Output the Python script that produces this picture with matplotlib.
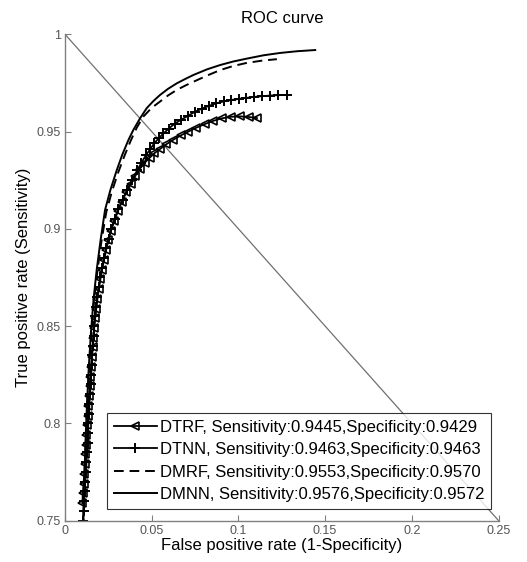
import matplotlib
matplotlib.use('Agg')
from matplotlib import pyplot as plt

plt.rcParams['font.family'] = ['Liberation Sans', 'DejaVu Sans']

# ROC points for each classifier (false positive rate, true positive rate)
dtrf_fpr = [0.0100, 0.0103, 0.0107, 0.0111, 0.0114, 0.0118, 0.0121, 0.0124, 0.0128, 0.0131,
            0.0135, 0.0139, 0.0142, 0.0146, 0.0150, 0.0154, 0.0159, 0.0163, 0.0168, 0.0174,
            0.0180, 0.0187, 0.0195, 0.0204, 0.0214, 0.0225, 0.0237, 0.0250, 0.0266, 0.0284,
            0.0305, 0.0328, 0.0354, 0.0378, 0.0404, 0.0433, 0.0460, 0.0488, 0.0515, 0.0548,
            0.0585, 0.0625, 0.0668, 0.0712, 0.0758, 0.0805, 0.0855, 0.0905, 0.0958, 0.1010,
            0.1060, 0.1107]
dtrf_tpr = [0.759, 0.764, 0.769, 0.774, 0.779, 0.784, 0.789, 0.794, 0.799, 0.804,
            0.809, 0.814, 0.819, 0.824, 0.829, 0.834, 0.839, 0.844, 0.849, 0.854,
            0.859, 0.864, 0.869, 0.874, 0.879, 0.884, 0.889, 0.894, 0.899, 0.904,
            0.909, 0.914, 0.919, 0.923, 0.927, 0.931, 0.934, 0.9365, 0.9388, 0.941,
            0.9435, 0.9458, 0.948, 0.950, 0.952, 0.9538, 0.9555, 0.9568, 0.9576, 0.9578,
            0.9575, 0.9569]

dtnn_fpr = [0.0104, 0.0107, 0.0110, 0.0114, 0.0117, 0.0121, 0.0124, 0.0127, 0.0130, 0.0132,
            0.0135, 0.0138, 0.0141, 0.0145, 0.0148, 0.0151, 0.0154, 0.0157, 0.0161, 0.0165,
            0.0169, 0.0175, 0.0181, 0.0187, 0.0195, 0.0204, 0.0215, 0.0226, 0.0238, 0.0251,
            0.0267, 0.0286, 0.0307, 0.0332, 0.0359, 0.0387, 0.0416, 0.0441, 0.0468, 0.0492,
            0.0515, 0.0540, 0.0568, 0.0598, 0.0632, 0.0668, 0.0708, 0.0750, 0.0790, 0.0830,
            0.0872, 0.0915, 0.0958, 0.1002, 0.1046, 0.1090, 0.1136, 0.1183, 0.1231, 0.1280]
dtnn_tpr = [0.750, 0.755, 0.760, 0.765, 0.770, 0.775, 0.780, 0.785, 0.790, 0.795,
            0.800, 0.805, 0.810, 0.815, 0.820, 0.825, 0.830, 0.835, 0.840, 0.845,
            0.850, 0.855, 0.860, 0.865, 0.870, 0.875, 0.880, 0.885, 0.890, 0.895,
            0.900, 0.905, 0.910, 0.915, 0.920, 0.925, 0.930, 0.934, 0.938, 0.941,
            0.944, 0.9465, 0.949, 0.9515, 0.954, 0.956, 0.958, 0.9602, 0.9618, 0.9632,
            0.9645, 0.9655, 0.9662, 0.9668, 0.9673, 0.9678, 0.9682, 0.9685, 0.9687, 0.9688]

dmrf_fpr = [0.0100, 0.0107, 0.0114, 0.0121, 0.0130, 0.0140, 0.0153, 0.0169, 0.0188, 0.0211,
            0.0238, 0.0270, 0.0307, 0.0345, 0.0380, 0.0414, 0.0452, 0.0500, 0.0548, 0.0595,
            0.0645, 0.0695, 0.0741, 0.0820, 0.0895, 0.0970, 0.1049, 0.1140, 0.1222]
dmrf_tpr = [0.738, 0.750, 0.775, 0.795, 0.812, 0.830, 0.847, 0.864, 0.879, 0.894,
            0.9085, 0.919, 0.929, 0.938, 0.9455, 0.9520, 0.9577, 0.9622, 0.9654, 0.9686,
            0.9714, 0.9737, 0.9756, 0.9788, 0.9816, 0.9837, 0.9853, 0.9865, 0.9872]

dmnn_fpr = [0.0100, 0.0106, 0.0113, 0.0120, 0.0128, 0.0138, 0.0150, 0.0165, 0.0183, 0.0205,
            0.0231, 0.0262, 0.0298, 0.0330, 0.0366, 0.0394, 0.0433, 0.0471, 0.0510, 0.0548,
            0.0595, 0.0645, 0.0695, 0.0741, 0.0820, 0.0895, 0.0970, 0.1049, 0.1145, 0.1240,
            0.1340, 0.1443]
dmnn_tpr = [0.740, 0.750, 0.775, 0.795, 0.812, 0.830, 0.847, 0.864, 0.879, 0.894,
            0.9097, 0.920, 0.930, 0.938, 0.9457, 0.9508, 0.9568, 0.9620, 0.9657, 0.9688,
            0.9720, 0.9748, 0.9771, 0.9791, 0.9820, 0.9842, 0.9860, 0.9875, 0.9892, 0.9904,
            0.9913, 0.9919]

labels = ['DTRF, Sensitivity:0.9445,Specificity:0.9429',
          'DTNN, Sensitivity:0.9463,Specificity:0.9463',
          'DMRF, Sensitivity:0.9553,Specificity:0.9570',
          'DMNN, Sensitivity:0.9576,Specificity:0.9572']

fig = plt.figure(figsize=(5.27, 5.62), dpi=100)
ax = fig.add_axes([0.1233, 0.0737, 0.8227, 0.8653])

ax.plot([0, 0.25], [1, 0.75], color='#707070', lw=0.9)
ax.plot(dtrf_fpr, dtrf_tpr, color='black', lw=1.3, marker='<', ms=5.5,
        mfc='none', mew=1.2, label=labels[0])
ax.plot(dtnn_fpr, dtnn_tpr, color='black', lw=1.3, marker='+', ms=7,
        mew=1.4, label=labels[1])
ax.plot(dmrf_fpr, dmrf_tpr, color='black', lw=1.4, ls=(0, (5, 3)), label=labels[2])
ax.plot(dmnn_fpr, dmnn_tpr, color='black', lw=1.4, label=labels[3])

ax.set_xlim(0, 0.25)
ax.set_ylim(0.75, 1)
ax.set_xticks([0, 0.05, 0.1, 0.15, 0.2, 0.25])
ax.set_xticklabels(['0', '0.05', '0.1', '0.15', '0.2', '0.25'])
ax.set_yticks([0.75, 0.8, 0.85, 0.9, 0.95, 1])
ax.set_yticklabels(['0.75', '0.8', '0.85', '0.9', '0.95', '1'])

for side in ['top', 'right']:
    ax.spines[side].set_visible(False)
for side in ['left', 'bottom']:
    ax.spines[side].set_color('#808080')
    ax.spines[side].set_linewidth(1.0)
ax.tick_params(direction='in', length=4, width=0.8, color='#808080',
               labelsize=9, labelcolor='#555555', pad=3)

ax.set_title('ROC curve', fontsize=12, pad=8)
ax.set_xlabel('False positive rate (1-Specificity)', fontsize=12, labelpad=1)
ax.set_ylabel('True positive rate (Sensitivity)', fontsize=12, labelpad=4)

leg = ax.legend(loc='lower left', bbox_to_anchor=(0.097, 0.024), fontsize=12,
                numpoints=1, handlelength=2.6, handletextpad=0.15, borderpad=0.4,
                labelspacing=0.45, frameon=True, fancybox=False,
                borderaxespad=0)
leg.get_frame().set_edgecolor('black')
leg.get_frame().set_linewidth(0.8)

fig.savefig('out.png', dpi=100)
